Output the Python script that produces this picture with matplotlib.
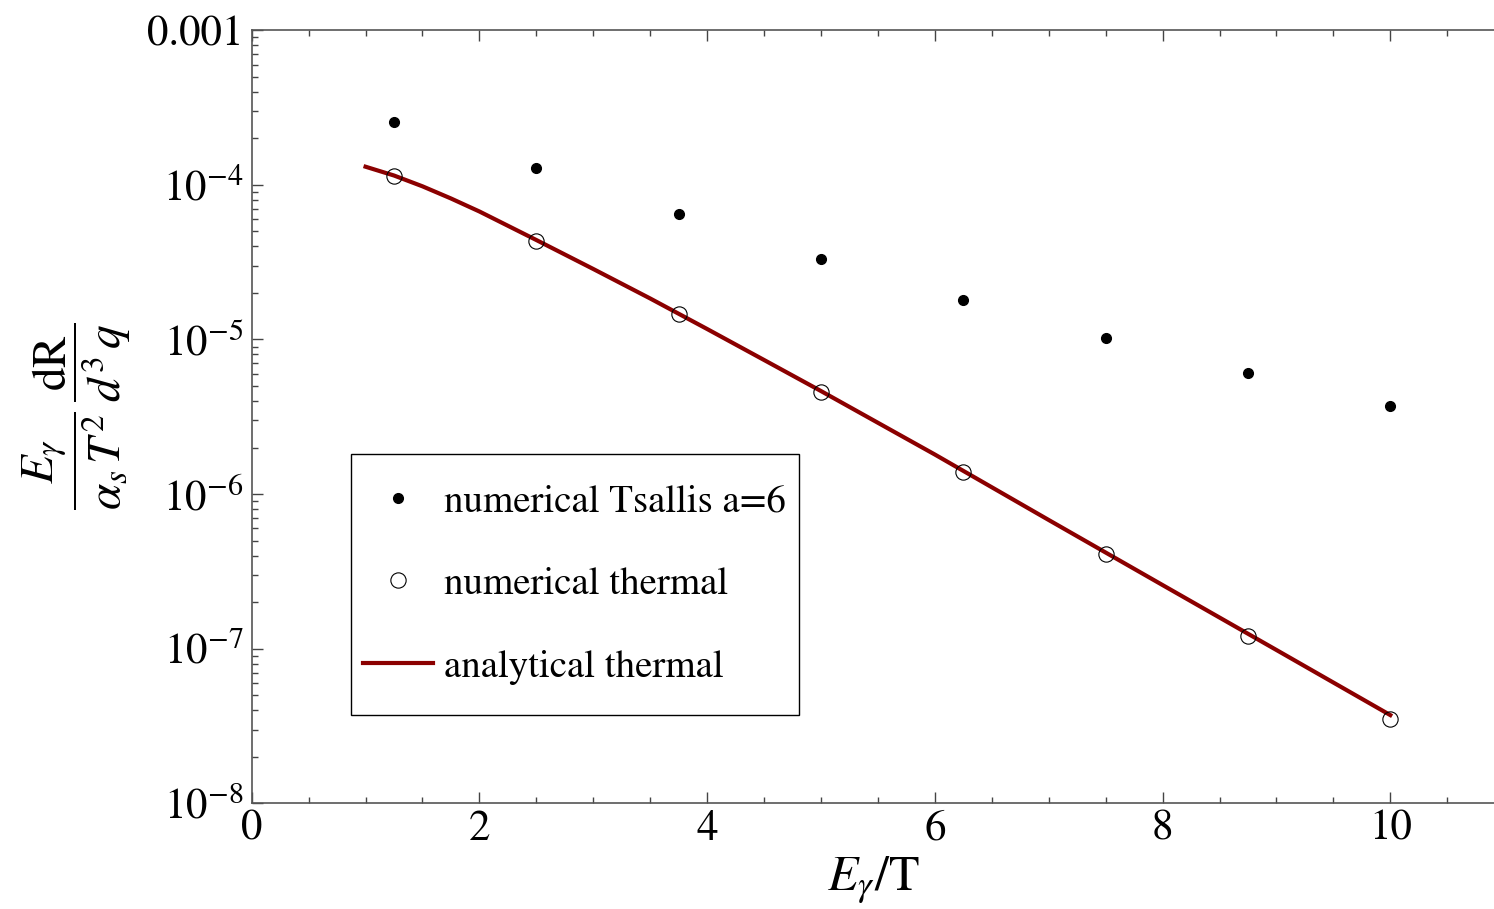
import matplotlib
matplotlib.use("Agg")
import matplotlib.pyplot as plt
from matplotlib.patches import Rectangle
from matplotlib.ticker import FixedLocator, LogLocator, NullFormatter, MultipleLocator

plt.rcParams['font.family'] = ['STIXGeneral', 'DejaVu Serif']
plt.rcParams['mathtext.fontset'] = 'stix'

# data
x_pts = [1.25, 2.5, 3.75, 5.0, 6.25, 7.5, 8.75, 10.0]
tsallis = [2.56e-4, 1.29e-4, 6.48e-5, 3.32e-5, 1.80e-5, 1.02e-5, 6.07e-6, 3.70e-6]
thermal_num = [1.14e-4, 4.36e-5, 1.46e-5, 4.60e-6, 1.38e-6, 4.08e-7, 1.21e-7, 3.49e-8]
x_line = [1.0, 1.25, 1.5, 1.75, 2.0, 2.5, 3.0, 3.5, 4.0, 4.5, 5.0, 6.0, 7.0, 8.0, 9.0, 10.0]
thermal_ana = [1.311e-4, 1.150e-4, 9.79e-5, 8.17e-5, 6.73e-5, 4.40e-5, 2.858e-5, 1.842e-5,
               1.169e-5, 7.37e-6, 4.64e-6, 1.803e-6, 6.80e-7, 2.58e-7, 9.81e-8, 3.72e-8]
y_ticks = [1e-8, 1e-7, 1e-6, 1e-5, 1e-4, 1e-3]
y_ticklabels = [r'$10^{-8}$', r'$10^{-7}$', r'$10^{-6}$', r'$10^{-5}$', r'$10^{-4}$', '0.001']
x_ticks = [0, 2, 4, 6, 8, 10]
labels = ['numerical Tsallis a=6', 'numerical thermal', 'analytical thermal']

W, H = 1494, 909
fig = plt.figure(figsize=(W / 100, H / 100), dpi=100)
left, bottom, top = 251.7 / W, 1 - 803.3 / H, 1 - 30.3 / H
ax = fig.add_axes([left, bottom, 1.0 - left, top - bottom])

ax.plot(x_line, thermal_ana, color='#8B0000', lw=3.0, label=labels[2], zorder=2)
ax.plot(x_pts, tsallis, 'o', ms=7, color='black', mec='black', label=labels[0], zorder=3)
ax.plot(x_pts, thermal_num, 'o', ms=11, mfc='none', mec='black', mew=0.8, label=labels[1], zorder=3)

ax.set_yscale('log')
ax.set_xlim(0, (W - 251.7) / 113.86)
ax.set_ylim(1e-8, 1e-3)

ax.yaxis.set_major_locator(FixedLocator(y_ticks))
ax.set_yticklabels(y_ticklabels)
ax.yaxis.set_minor_locator(LogLocator(base=10, subs=range(2, 10), numticks=20))
ax.yaxis.set_minor_formatter(NullFormatter())
ax.set_xticks(x_ticks)
ax.set_xticklabels([str(v) for v in x_ticks])
ax.xaxis.set_minor_locator(MultipleLocator(0.5))

ax.tick_params(which='both', direction='in', top=True, right=False, color='#444444', width=1.0)
ax.tick_params(which='major', length=8, labelsize=31)
ax.tick_params(axis='y', which='major', pad=6)
ax.tick_params(axis='x', which='major', pad=5)
ax.tick_params(which='minor', length=4.5)
for s in ['left', 'bottom', 'top']:
    ax.spines[s].set_color('#555555')
    ax.spines[s].set_linewidth(1.2)
ax.spines['right'].set_visible(False)

ax.set_xlabel(r'$E_{\gamma}$/T', fontsize=36, labelpad=4)
ax.set_ylabel(r'$\dfrac{E_{\gamma}}{\alpha_s\,T^2}\,\dfrac{\mathrm{dR}}{d^3\,q}$', fontsize=34, labelpad=10)

h, l = ax.get_legend_handles_labels()
order = [1, 2, 0]
leg = ax.legend([h[i] for i in order], [l[i] for i in order], loc='upper left',
                bbox_to_anchor=(363 / W, 1 - 484 / H), bbox_transform=fig.transFigure,
                borderaxespad=0, borderpad=0, fontsize=28, frameon=False,
                handlelength=1.8, handletextpad=0.27, labelspacing=1.22)
fig.patches.append(Rectangle((351 / W, 1 - 715 / H), (799 - 351) / W, (715 - 454) / H,
                             transform=fig.transFigure, fill=False, edgecolor='black',
                             lw=1.0, zorder=5))

fig.savefig('out.png', dpi=100)
